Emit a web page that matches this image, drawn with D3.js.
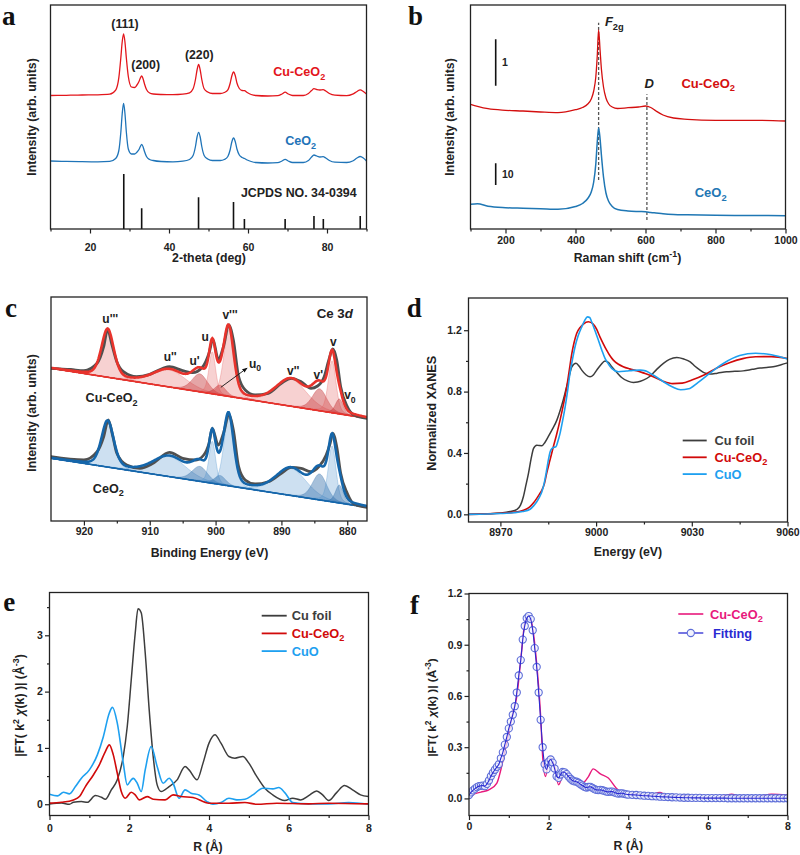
<!DOCTYPE html>
<html><head><meta charset="utf-8">
<script src="https://cdn.jsdelivr.net/npm/d3@7/dist/d3.min.js"></script>
<style>body{margin:0;background:#fff}</style>
</head><body>
<script>
// ================= DATA =================
// (a) XRD
const xrdTheta=[10,14,18,22,25, 26.5,27.3,27.8,28.15,28.5, 28.85,29.2,29.7,30.5,31.3, 31.8,32.4,32.75,33.1,33.45,
 33.8,34.3,35.1,36,38, 41,43.5,45.2,46.1,46.7, 47.1,47.5,47.9,48.3,48.9, 49.8,51,53,54,54.9,
 55.5,55.9,56.35,56.8,57.2, 57.8,58.5,59.1,59.8,60.8, 62,65,67.5,68.6,69.4, 70.2,71.3,74,75.3,76.1,
 76.7,77.4,78.2,79,79.7, 80.6,82,85,86.5,87.6, 88.4,89.2,90];
const xrdCuCeO2=[133.5,133.7,134,134.2,134.8, 138.9,151.3,171,187,195, 187,171,152.5,142,141.5, 143.5,147.5,151,153,150,
 145,139.5,136,135,134.5, 134.3,134.8,136.2,140.2,149.5, 159,164.5,159,149.5,140.2, 137,135.5,135.5,136.5,139.2,
 146,153,157,153,146, 140.5,138.5,138.3,136.5,134.5, 133.5,133,133.3,135,136.8, 135,133.5,133.5,135.5,138.5,
 140.3,139.5,139,139.3,138, 135.5,133.8,133.3,134.8,137.5, 139.2,137.5,135];
const xrdCeO2=[68,67.6,67.3,67.2,67.6, 70.5,78.5,96.5,115,125.7, 115.5,97,80,75,75, 76.5,79.5,82.5,84.7,82,
 77.5,72.5,69.5,68.5,67.5, 67.2,67.8,69.5,73.5,82.5, 92,96.7,92,82.5,73.5, 70,68.5,68.5,69.5,72.5,
 79.5,87,91,87,80, 74,71.5,70.5,69,67.5, 66.5,66,66.3,68,69.7, 68,66.5,66.5,68.5,72,
 74,73,72,72.3,71, 68.5,66.8,66.5,68,71, 72.5,71,68];
const jcpdsTheta=[28.55,33.08,47.48,56.33,59.09,69.4,76.7,79.07,88.41];
const jcpdsInt=[55,20.7,31.7,27,10,10,13,10,13];
const xrdPeakNames=["(111)","(200)","(220)"];
const xrdPeakAt=[[28.86,205],[34.1,164],[47.67,174.7]];

// (b) Raman
const ramanShift=[100,120,150,200,250, 300,350,400,420,435, 445,452,458,462,466, 470,474,480,487,495,
 505,520,550,580,600, 615,630,650,680,720, 800,900,1000];
const ramanCuCeO2=[124.7,122.7,120.3,118.7,118, 117,116.3,119.3,121.5,125, 130,138,152,172,199, 180,160,142,131,125,
 122,120.5,121.3,122,123, 121.5,118,114,111,109.7, 108.7,108.7,108];
const ramanCeO2=[24.7,25.3,22.7,21.3,20.8, 20.3,19.7,22.5,25.5,30.5, 37,47,65,86,101, 91,74,52,36,27.5,
 22.5,19.5,18,17.5,17.3, 16.5,16,15.3,14.6,14.2, 13.7,13.5,13.3];
const ramanBands=[466,604];          // F2g, D
const ramanBandSpan=[[49,206.3],[9,134.7]];
const scaleBars=[[143.3,189.7,"1"],[44,65.7,"10"]];

// (c) XPS Ce 3d
const xpsBE_Cu=[925,922,920,918,917,916.4,915.8,915,914,912,910,908,907,905,903.5,902,901,900.4,899.6,898.8,898,897.3,
 896.5,895.5,894,892,890,888.5,887,885.5,884.5,883.5,882.8,882.2,881.6,881,880,879,877];
const xpsCu=[152.7,151.5,150.3,157.7,174.3,191.7,177.7,159.3,149.3,144.3,146.7,152.7,154.3,150.3,148.3,153.7,167.7,181.7,161.7,174.3,196,181,
 144.3,131,126,127.7,137.7,142.7,139.3,132.7,135,144.3,161,172,161,134.3,114.3,106,102.7];
const xpsBE_Ce=[925,920,918,917,916.3,915.6,915,913.5,911.5,909.5,907,905,903,901.8,901,900.5,899.6,898.8,898,897.3,
 896.5,895.5,894,892,890,888.5,887,885.5,884.3,883.2,882.6,882.2,881.6,881,880,879,877];
const xpsCe=[64.3,61,69.3,84.3,101,84.3,67.7,56,52.7,57.7,68.7,62.7,61,66,77.7,92.7,76,87.7,106,91,
 54.3,41,37,39.3,47.7,53.7,52.7,49.3,54.3,66,77.7,87.7,74.3,47.7,27.7,17,13.7];
const ce3dNames=["u'''","u''","u'","u","u0","v'''","v''","v'","v","v0"];
const ce3dCenter=[916.4,907.0,902.4,900.5,899.3,898.0,888.5,884.2,882.3,881.2];
const ce3dFwhm=[2.2,6.0,2.8,1.2,2.0,1.8,5.5,2.6,1.4,1.4];
const ce3dHeightCu=[48,17,18,42,10,66,27,22,52,15];
const ce3dHeightCe=[46,20,15,42,9,68,27,26,56,18];
const ce3dDark=[0,0,1,0,1,0,0,1,0,1];
const bgCu=[152.7,102.7];   // background at 925 eV and 877 eV
const bgCe=[62.7,13.7];
const ce3dLabels=[["u'''",916.0,202.7],["u''",906.9,164.3],["u'",903.2,160],["u",901.6,184.3],["v'''",897.8,206],
 ["u_{0}",894.0,157.7],["v''",888.2,150.3],["v'",884.4,146],["v",882.1,179.3],["v_{0}",879.6,126]];

// (d) XANES
const eFoil=[8960,8966,8970,8973,8975.2,8976.3,8977.2,8978,8978.8,8979.6,8980.4,8981.4,8982.2,8983,8984,8985,8986.3,8987.7,8988.7,8989.7,
 8990.5,8991.3,8992.4,8993.7,8994.7,8995.5,8996.8,8998.1,8999.2,9000.2,9001.5,9002.8,9004,9004.9,9006.5,9008,9010,9011.7,9013,9014.8,
 9016.9,9019,9021.1,9023,9025.3,9027.5,9029.5,9031,9032.6,9034,9035.7,9038,9040.9,9043.5,9046.1,9049,9051.4,9053.5,9055.5,9058,9060];
const xanesFoil=[0,0.003,0.008,0.018,0.033,0.06,0.115,0.19,0.267,0.36,0.43,0.451,0.448,0.447,0.47,0.506,0.555,0.614,0.675,0.745,
 0.81,0.875,0.962,0.984,0.965,0.94,0.91,0.896,0.91,0.94,0.975,1.0,0.988,0.962,0.925,0.892,0.868,0.86,0.863,0.875,
 0.9,0.945,0.984,1.01,1.022,1.012,0.994,0.965,0.94,0.922,0.914,0.92,0.929,0.932,0.935,0.945,0.953,0.957,0.962,0.975,0.987];
const eCuCeO2=[8960,8966,8970,8974,8976.2,8978,8979.3,8980.4,8981.4,8982.2,8983,8983.8,8984.5,8985.5,8986.6,8987.7,8988.7,8989.8,8990.8,8991.6,
 8992.4,8993.1,8993.9,8995,8996,8997.6,8999.1,9000.2,9001.2,9002.3,9003.3,9004.3,9005.4,9007,9008.5,9010.5,9012.7,9014.8,9016.9,9019,
 9021,9024,9027,9030,9034,9038,9042,9046,9050,9055,9060];
const xanesCuCeO2=[0,0.003,0.007,0.013,0.02,0.033,0.05,0.075,0.104,0.13,0.158,0.2,0.267,0.35,0.44,0.527,0.614,0.72,0.831,0.94,
 1.049,1.12,1.179,1.218,1.24,1.255,1.24,1.205,1.157,1.11,1.07,1.035,1.005,0.978,0.962,0.948,0.936,0.922,0.907,0.886,
 0.868,0.852,0.855,0.875,0.91,0.955,0.99,1.015,1.027,1.028,1.016];
const eCuO=[8960,8966,8970,8974,8977,8979.3,8980.4,8981.4,8982.2,8983,8983.8,8984.5,8985,8985.6,8986.1,8986.6,8987.4,8988,8988.7,8989.5,
 8990.3,8991.1,8991.8,8992.6,8993.4,8994.4,8995.5,8996.4,8997.3,8998,8998.6,8999.6,9000.7,9001.8,9002.8,9003.9,9004.9,9007,9009.6,9011.5,
 9013.8,9015.5,9017,9018.5,9021,9024,9026.5,9029,9032,9036,9040,9045,9050,9055,9060];
const xanesCuO=[0,0.002,0.005,0.01,0.018,0.033,0.055,0.082,0.11,0.147,0.21,0.289,0.35,0.408,0.428,0.436,0.44,0.475,0.528,0.61,
 0.701,0.81,0.919,1.01,1.092,1.165,1.222,1.262,1.287,1.283,1.255,1.2,1.136,1.07,1.016,0.978,0.951,0.929,0.934,0.938,
 0.94,0.935,0.919,0.9,0.866,0.83,0.812,0.818,0.86,0.925,0.985,1.035,1.05,1.04,1.012];

// (e) FT-EXAFS
const rFoil=[0,0.3,0.5,0.6,0.8, 0.95,1.15,1.3,1.4,1.55, 1.7,1.85,1.95,2.05,2.15, 2.22,2.3,2.4,2.5,2.6,
 2.7,2.8,3.0,3.2,3.4, 3.5,3.7,3.85,4.0,4.15, 4.3,4.5,4.65,4.85,5.0, 5.2,5.4,5.6,5.9,6.1, 6.3,6.5,6.7,6.85,7.0, 7.2,7.4,7.6,7.8,8.0];
const ftFoil=[0.006,0.02,0,0.035,0.047, 0.035,0.154,0.124,0.089,0.255, 0.433,0.85,1.38,2.21,3.04, 3.47,3.40,2.69,1.68,0.85,
 0.344,0.225,0.314,0.433,0.67, 0.61,0.433,0.73,1.085,1.233, 1.085,0.848,0.818,0.848,0.73, 0.49,0.285,0.166,0.065,0.107,
 0.077,0.154,0.237,0.166,0.065, 0.207,0.332,0.255,0.166,0.136];
const rCuCeO2=[0,0.3,0.6,0.75,0.9, 1.1,1.25,1.4,1.5,1.6, 1.7,1.8,1.9,2.05,2.15, 2.25,2.45,2.6,2.9,3.1, 3.3,3.6,4.0,4.5,4.9, 5.2,5.7,6.5,7.0,8.0];
const ftCuCeO2=[0.02,0.035,0.077,0.136,0.314, 0.52,0.70,0.936,1.055,0.877, 0.55,0.225,0.107,0.213,0.166, 0.077,0.136,0.089,0.077,0.166,
 0.136,0.119,0.018,0.018,0.03, 0.0,0.018,0.006,0.018,0.006];
const rCuO=[0,0.2,0.35,0.5,0.65, 0.8,1.0,1.2,1.35,1.5, 1.58,1.7,1.85,1.95,2.05, 2.1,2.2,2.3,2.4,2.55, 2.7,2.85,3.0,3.1,3.25,
 3.4,3.55,3.75,3.95,4.1, 4.3,4.5,4.7,4.9,5.1, 5.35,5.6,5.75,5.9,6.1, 6.5,7.0,7.5,8.0];
const ftCuO=[0.178,0.148,0.213,0.184,0.314, 0.462,0.61,0.877,1.2,1.62, 1.72,1.44,0.73,0.344,0.433, 0.46,0.373,0.225,0.61,1.025,
 0.67,0.373,0.462,0.373,0.107, 0.255,0.196,0.166,0.047,0.0, 0.03,0.107,0.077,0.089,0.166, 0.285,0.273,0.296,0.207,0.03, 0.006,0.006,0.03,0.0];

// (f) Cu-CeO2 and fit
const rExpF=[0,0.3,0.5,0.7,0.8, 0.9,1.0,1.1,1.2,1.3, 1.4,1.5,1.6,1.7,1.8, 1.85,1.92,2.0,2.05,2.15, 2.25,2.4,2.55,2.7,2.85,
 3.0,3.12,3.3,3.5,3.7, 3.9,4.2,4.5,4.8,5.0, 5.4,5.8,6.2,6.6,6.9, 7.3,7.6,8.0];
const ftExpF=[0.019,0.037,0.05,0.09,0.168, 0.275,0.382,0.5,0.596,0.81, 1.025,1.073,0.996,0.79,0.48, 0.245,0.128,0.216,0.236,0.187,
 0.08,0.158,0.128,0.09,0.09, 0.128,0.173,0.144,0.119,0.06, 0.031,0.027,0.019,0.035,0.01, 0.016,0.004,0.004,0.025,0.006, 0.012,0.025,0.019];
const rFit=[0,0.05,0.1,0.15,0.2,0.25,0.3,0.35,0.4,0.45, 0.5,0.55,0.6,0.65,0.7,0.75,0.8,0.85,0.9,0.95,
 1.0,1.05,1.1,1.15,1.2,1.25,1.3,1.35,1.4,1.45, 1.5,1.55,1.6,1.65,1.7,1.75,1.8,1.85,1.9,1.95,
 2.0,2.05,2.1,2.15,2.2,2.25,2.3,2.35,2.4,2.45, 2.5,2.55,2.6,2.65,2.7,2.75,2.8,2.85,2.9,2.95,
 3.0,3.05,3.1,3.15,3.2,3.25,3.3,3.35,3.4,3.45, 3.5,3.55,3.6,3.65,3.7,3.75,3.8,3.85,3.9,3.95,
 4.0,4.1,4.2,4.3,4.4,4.5,4.6,4.7,4.8,4.9, 5.0,5.1,5.2,5.3,5.4,5.5,5.6,5.7,5.8,5.9,
 6.0,6.1,6.2,6.3,6.4,6.5,6.6,6.7,6.8,6.9, 7.0,7.1,7.2,7.3,7.4,7.5,7.6,7.7,7.8,7.9,8.0];
const ftFit=[0.02,0.035,0.047,0.057,0.066,0.072,0.074,0.075,0.072,0.085, 0.105,0.13,0.15,0.168,0.185,0.2,0.235,0.27,0.315,0.36,
 0.41,0.45,0.49,0.54,0.62,0.72,0.81,0.93,1.01,1.055, 1.068,1.05,0.985,0.88,0.77,0.62,0.46,0.3,0.2,0.17,
 0.215,0.228,0.21,0.175,0.13,0.12,0.14,0.155,0.153,0.142, 0.128,0.115,0.105,0.1,0.098,0.092,0.083,0.075,0.068,0.064,
 0.067,0.068,0.062,0.055,0.05,0.049,0.05,0.048,0.044,0.04, 0.038,0.04,0.04,0.036,0.031,0.028,0.03,0.03,0.027,0.024,
 0.022,0.021,0.02,0.018,0.016,0.015,0.013,0.012,0.01,0.009, 0.008,0.007,0.006,0.005,0.004,0.004,0.003,0.003,0.003,0.002,
 0.002,0.002,0.002,0.002,0.002,0.001,0.001,0.001,0.001,0.001, 0.001,0.001,0.001,0.001,0.001,0.001,0.001,0.001,0.001,0.001,0.001];

// ================= DRAWING =================
const FONT='"Liberation Sans", Arial, Helvetica, sans-serif';
const SERIF='"Liberation Serif", "Times New Roman", serif';
const INK="#222";
const C_FOIL="#3d3d3d", C_RED="#d10a0a", C_CUO="#1ea0f0";
const svg=d3.select("body").append("svg").attr("width",800).attr("height",855);
svg.append("rect").attr("width",800).attr("height",855).attr("fill","#fff");

function rich(g,x,y,str,fs,color,anchor,weight){
  const t=g.append("text").attr("x",x).attr("y",y).attr("font-family",FONT).attr("font-size",fs)
    .attr("font-weight",weight||"bold").attr("fill",color).attr("text-anchor",anchor||"start");
  const parts=str.split(/(_\{[^}]*\}|\^\{[^}]*\}|~\{[^}]*\})/).filter(s=>s.length);
  let shift=0;
  parts.forEach(p=>{
    let kind="n",txt=p;
    if(/^[_^~]\{/.test(p)){kind=p[0];txt=p.slice(2,-1);}
    const ts=t.append("tspan").text(txt);
    let target=0;
    if(kind==="_"){ts.attr("font-size",fs*0.72);target=fs*0.28;}
    else if(kind==="^"){ts.attr("font-size",fs*0.72);target=-fs*0.4;}
    else if(kind==="~"){ts.attr("font-style","italic");}
    const dy=target-shift; if(dy!==0) ts.attr("dy",dy); shift=target;
  });
  return t;
}
function ytitle(cx,cy,str,fs){
  const g=svg.append("g").attr("transform",`translate(${cx+0.35*fs},${cy}) rotate(-90)`);
  rich(g,0,0,str,fs,INK,"middle");
}
function xtitle(cx,cy,str,fs){ rich(svg,cx,cy+0.35*fs,str,fs,INK,"middle"); }
function letter(x,y,s){ svg.append("text").attr("x",x).attr("y",y).attr("font-family",SERIF).attr("font-weight","bold").attr("font-size",27).attr("fill","#111").text(s); }

let clipN=0;
function makePanel(o){
  const x=d3.scaleLinear().domain(o.xd).range([o.l,o.r]);
  const y=d3.scaleLinear().domain(o.yd).range([o.b,o.t]);
  const id="clip"+(clipN++);
  svg.append("clipPath").attr("id",id).append("rect").attr("x",o.l).attr("y",o.t).attr("width",o.r-o.l).attr("height",o.b-o.t);
  const plot=svg.append("g").attr("clip-path",`url(#${id})`);
  return {x,y,plot,o};
}
function styleAxis(sel,fs){
  sel.select(".domain").remove();
  sel.selectAll("line").attr("stroke",INK).attr("stroke-width",1.2);
  sel.selectAll("text").attr("font-family",FONT).attr("font-weight","bold").attr("font-size",fs).attr("fill",INK);
}
function axes(P){
  const {x,y,o}=P;
  const g=svg.append("g");
  g.append("g").attr("transform",`translate(0,${o.b})`)
    .call(d3.axisBottom(x).tickValues(o.xMajor).tickSize(4.5).tickPadding(o.xPad).tickFormat(o.xFmt||d3.format("d"))).call(s=>styleAxis(s,10.5));
  if(o.xMinor) g.append("g").attr("transform",`translate(0,${o.b})`)
    .call(d3.axisBottom(x).tickValues(o.xMinor).tickSize(2.5).tickFormat("")).call(s=>styleAxis(s,10.5));
  if(o.yMajor) g.append("g").attr("transform",`translate(${o.l},0)`)
    .call(d3.axisLeft(y).tickValues(o.yMajor).tickSize(4.5).tickPadding(2.2).tickFormat(o.yFmt)).call(s=>styleAxis(s,10.5));
  if(o.yMinor) g.append("g").attr("transform",`translate(${o.l},0)`)
    .call(d3.axisLeft(y).tickValues(o.yMinor).tickSize(2.5).tickFormat("")).call(s=>styleAxis(s,10.5));
  g.append("rect").attr("x",o.l).attr("y",o.t).attr("width",o.r-o.l).attr("height",o.b-o.t)
    .attr("fill","none").attr("stroke",INK).attr("stroke-width",1.3);
}
function drawLine(P,xs,ys,color,w,g){
  const pts=xs.map((v,i)=>[v,ys[i]]);
  (g||P.plot).append("path").datum(pts).attr("fill","none").attr("stroke",color).attr("stroke-width",w)
    .attr("stroke-linejoin","round").attr("stroke-linecap","round")
    .attr("d",d3.line().x(d=>P.x(d[0])).y(d=>P.y(d[1])).curve(d3.curveMonotoneX));
}
function label(P,xv,yv,str,fs,color,anchor){ rich(svg,P.x(xv),P.y(yv)+0.35*fs,str,fs,color,anchor); }

// ---------- (a) ----------
{
  const P=makePanel({l:50.5,r:366.5,t:5,b:229,xd:[10,90],yd:[0,224],xMajor:[20,40,60,80],xMinor:[10,30,50,70,90],xPad:10.3});
  drawLine(P,xrdTheta,xrdCuCeO2,"#e3161c",1.3);
  drawLine(P,xrdTheta,xrdCeO2,"#1f74b8",1.3);
  P.plot.selectAll("line.stick").data(jcpdsTheta).join("line").attr("class","stick")
    .attr("x1",d=>P.x(d)).attr("x2",d=>P.x(d)).attr("y1",P.y(0)).attr("y2",(d,i)=>P.y(jcpdsInt[i]))
    .attr("stroke","#111").attr("stroke-width",1.6);
  axes(P);
  xrdPeakNames.forEach((n,i)=>label(P,xrdPeakAt[i][0],xrdPeakAt[i][1],n,12.3,INK,"middle"));
  label(P,66.4,157,"Cu-CeO_{2}",12.6,"#e3161c","start");
  label(P,69.4,88,"CeO_{2}",12.6,"#1f74b8","start");
  label(P,58.2,36.3,"JCPDS NO. 34-0394",12.4,INK,"start");
  ytitle(31.7,117,"Intensity (arb. units)",12.3);
  xtitle(209,257.7,"2-theta (deg)",12.3);
  letter(2,24.5,"a");
}
// ---------- (b) ----------
{
  const P=makePanel({l:470.5,r:785.5,t:5,b:229,xd:[100,1000],yd:[0,224],xMajor:[200,400,600,800,1000],xMinor:[100,300,500,700,900],xPad:3.5});
  ramanBands.forEach((b,i)=>P.plot.append("line").attr("x1",P.x(b)).attr("x2",P.x(b))
    .attr("y1",P.y(ramanBandSpan[i][0])).attr("y2",P.y(ramanBandSpan[i][1]))
    .attr("stroke","#555").attr("stroke-width",1.3).attr("stroke-dasharray","3,2"));
  drawLine(P,ramanShift,ramanCuCeO2,"#d40f0f",1.3);
  drawLine(P,ramanShift,ramanCeO2,"#1f77b4",1.5);
  scaleBars.forEach(s=>{
    P.plot.append("line").attr("x1",P.x(172)).attr("x2",P.x(172)).attr("y1",P.y(s[0])).attr("y2",P.y(s[1]))
      .attr("stroke","#111").attr("stroke-width",1.6);
    label(P,190,(s[0]+s[1])/2,s[2],10.5,INK,"start");
  });
  axes(P);
  label(P,484,207.3,"~{F}_{2g}",13,INK,"start");
  label(P,597,145.7,"~{D}",13,INK,"start");
  label(P,702.6,145.7,"Cu-CeO_{2}",13,"#d40f0f","start");
  label(P,740.5,36.3,"CeO_{2}",13,"#1f77b4","start");
  ytitle(450,117,"Intensity (arb. units)",12.3);
  xtitle(627.5,257.7,"Raman shift (cm^{-1})",12.3);
  letter(408,24.5,"b");
}
// ---------- (c) ----------
{
  const P=makePanel({l:51,r:367,t:297,b:521,xd:[925,877],yd:[0,224],xMajor:[920,910,900,890,880],xMinor:[915,905,895,885],xPad:2.5});
  const grid=d3.range(877,925.001,0.1);
  const pv=(x,c,h,w)=>{const r=(x-c)/(w/2);return h*(0.3/(1+r*r)+0.7*Math.exp(-Math.LN2*r*r));};
  function xps(bg,heights,fillC,darkC,lineC,expBE,expI){
    const bgf=x=>bg[1]+(x-877)*(bg[0]-bg[1])/48;
    ce3dCenter.forEach((c,i)=>{
      P.plot.append("path").datum(grid)
        .attr("d",d3.area().x(d=>P.x(d)).y0(d=>P.y(bgf(d))).y1(d=>P.y(bgf(d)+pv(d,c,heights[i],ce3dFwhm[i]))))
        .attr("fill",ce3dDark[i]?darkC:fillC).attr("fill-opacity",ce3dDark[i]?0.42:0.28)
        .attr("stroke",ce3dDark[i]?darkC:fillC).attr("stroke-opacity",0.5).attr("stroke-width",0.6);
    });
    P.plot.append("path").datum(grid).attr("d",d3.line().x(d=>P.x(d)).y(d=>P.y(bgf(d))))
      .attr("fill","none").attr("stroke",lineC).attr("stroke-width",1.6);
    drawLine(P,expBE,expI,"#505050",2.8);
    P.plot.append("path").datum(grid)
      .attr("d",d3.line().x(d=>P.x(d)).y(d=>P.y(bgf(d)+d3.sum(ce3dCenter,(c,i)=>pv(d,c,heights[i],ce3dFwhm[i])))))
      .attr("fill","none").attr("stroke",lineC).attr("stroke-width",2.6);
  }
  xps(bgCu,ce3dHeightCu,"#e35a5a","#c0282a","#e8332c",xpsBE_Cu,xpsCu);
  xps(bgCe,ce3dHeightCe,"#4a8fcb","#2a6aa8","#1566aa",xpsBE_Ce,xpsCe);
  axes(P);
  ce3dLabels.forEach(l=>label(P,l[1],l[2],l[0],12,INK,"middle"));
  svg.append("defs").append("marker").attr("id","arr").attr("viewBox","0 0 10 10").attr("refX",9).attr("refY",5)
    .attr("markerWidth",6).attr("markerHeight",6).attr("orient","auto")
    .append("path").attr("d","M0,1 L10,5 L0,9 z").attr("fill","#111");
  svg.append("line").attr("x1",P.x(899.2)).attr("y1",P.y(133.7)).attr("x2",P.x(895.2)).attr("y2",P.y(153))
    .attr("stroke","#111").attr("stroke-width",0.9).attr("marker-end","url(#arr)");
  label(P,881.9,207.7,"Ce 3~{d}",13.3,INK,"middle");
  label(P,915.8,123.3,"Cu-CeO_{2}",12.6,INK,"middle");
  label(P,916.3,32.7,"CeO_{2}",12.6,INK,"middle");
  ytitle(31.7,413,"Intensity (arb. units)",12.3);
  xtitle(209.5,552.7,"Binding Energy (eV)",12.3);
  letter(5,317,"c");
}
// ---------- (d) ----------
{
  const P=makePanel({l:468.5,r:787.5,t:298,b:522,xd:[8960,9060],yd:[-0.05,1.41],xMajor:[8970,9000,9030,9060],xMinor:[8985,9015,9045],
    yMajor:[0,0.4,0.8,1.2],yMinor:[0.2,0.6,1.0],yFmt:d3.format(".1f"),xPad:2.3});
  drawLine(P,eFoil,xanesFoil,C_FOIL,1.5);
  drawLine(P,eCuCeO2,xanesCuCeO2,C_RED,1.6);
  drawLine(P,eCuO,xanesCuO,C_CUO,1.6);
  axes(P);
  const leg=[["Cu foil",C_FOIL],["Cu-CeO_{2}",C_RED],["CuO",C_CUO]];
  leg.forEach((L,i)=>{
    const yy=440.5+i*16.8;
    svg.append("line").attr("x1",682.7).attr("x2",706.7).attr("y1",yy).attr("y2",yy).attr("stroke",L[1]).attr("stroke-width",1.8);
    rich(svg,714.5,yy+4.5,L[0],12.8,L[1],"start");
  });
  ytitle(431.7,413.3,"Normalized XANES",12.6);
  xtitle(628,552,"Energy (eV)",12.3);
  letter(406.7,317,"d");
}
// ---------- (e) ----------
{
  const P=makePanel({l:49.5,r:368.5,t:592.5,b:815.5,xd:[0,8],yd:[-0.2,3.76],xMajor:[0,2,4,6,8],xMinor:[1,3,5,7],
    yMajor:[0,1,2,3],yMinor:[0.5,1.5,2.5,3.5],yFmt:d3.format("d"),xPad:4.6});
  drawLine(P,rFoil,ftFoil,C_FOIL,1.5);
  drawLine(P,rCuO,ftCuO,C_CUO,1.6);
  drawLine(P,rCuCeO2,ftCuCeO2,C_RED,1.6);
  axes(P);
  const leg=[["Cu foil",C_FOIL],["Cu-CeO_{2}",C_RED],["CuO",C_CUO]];
  leg.forEach((L,i)=>{
    const yy=615.7+i*17.7;
    svg.append("line").attr("x1",261.7).attr("x2",286.7).attr("y1",yy).attr("y2",yy).attr("stroke",L[1]).attr("stroke-width",1.8);
    rich(svg,291.7,yy+4.5,L[0],12.8,L[1],"start");
  });
  ytitle(20,705.5,"|FT( k^{2} ~{χ}(k) )| (Å^{-3})",12.3);
  xtitle(208,846.7,"R (Å)",12.3);
  letter(3.3,611,"e");
}
// ---------- (f) ----------
{
  const P=makePanel({l:469,r:787.5,t:593.5,b:815.5,xd:[0,8],yd:[-0.1,1.2],xMajor:[0,2,4,6,8],xMinor:[1,3,5,7],
    yMajor:[0,0.3,0.6,0.9,1.2],yMinor:[0.15,0.45,0.75,1.05],yFmt:d3.format(".1f"),xPad:3});
  const PINK="#e8197c", FITB="#2a2ad2", MK="#5d6dd8";
  drawLine(P,rExpF,ftExpF,PINK,1.4);
  P.plot.selectAll("circle.fit").data(rFit).join("circle").attr("class","fit")
    .attr("cx",d=>P.x(d)).attr("cy",(d,i)=>P.y(ftFit[i])).attr("r",3.6)
    .attr("fill","#f2f3fd").attr("fill-opacity",0.75).attr("stroke",MK).attr("stroke-width",1.1);
  drawLine(P,rFit,ftFit,FITB,1.1);
  axes(P);
  svg.append("line").attr("x1",678.3).attr("x2",703.3).attr("y1",614).attr("y2",614).attr("stroke",PINK).attr("stroke-width",1.6);
  rich(svg,710,618.5,"Cu-CeO_{2}",12.8,PINK,"start");
  svg.append("line").attr("x1",678.3).attr("x2",703.3).attr("y1",633).attr("y2",633).attr("stroke",FITB).attr("stroke-width",1.3);
  svg.append("circle").attr("cx",690.8).attr("cy",633).attr("r",3.6).attr("fill","#f2f3fd").attr("stroke",MK).attr("stroke-width",1.1);
  rich(svg,713,637.5,"Fitting",12.8,FITB,"start");
  ytitle(431.7,707.5,"|FT( k^{2} ~{χ}(k) )| (Å^{-3})",11.8);
  xtitle(628.3,846,"R (Å)",12.3);
  letter(410,613.5,"f");
}
</script>
</body></html>
